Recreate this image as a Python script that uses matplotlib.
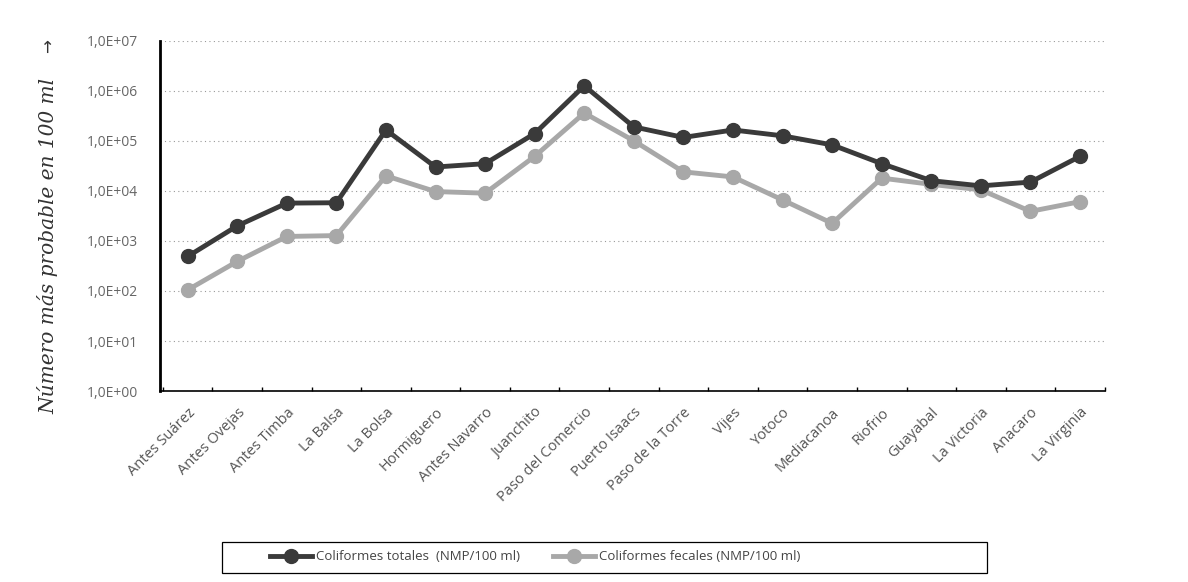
import numpy as np
import matplotlib
matplotlib.use("Agg")
import matplotlib.pyplot as plt
from matplotlib.ticker import FixedLocator, NullLocator
from matplotlib.patches import Rectangle

estaciones = ["Antes Suárez", "Antes Ovejas", "Antes Timba", "La Balsa", "La Bolsa",
              "Hormiguero", "Antes Navarro", "Juanchito", "Paso del Comercio",
              "Puerto Isaacs", "Paso de la Torre", "Vijes", "Yotoco", "Mediacanoa",
              "Riofrio", "Guayabal", "La Victoria", "Anacaro", "La Virginia"]
totales = [490, 2000, 5700, 5800, 1.65e5, 3.0e4, 3.5e4, 1.4e5, 1.26e6,
           1.9e5, 1.17e5, 1.65e5, 1.26e5, 8.3e4, 3.5e4, 1.6e4, 1.26e4, 1.5e4, 4.9e4]
fecales = [105, 390, 1230, 1280, 2.0e4, 9700, 9000, 4.9e4, 3.6e5,
           1.0e5, 2.4e4, 1.9e4, 6600, 2250, 1.8e4, 1.35e4, 1.05e4, 3900, 6100]
ytick_vals = [1e0, 1e1, 1e2, 1e3, 1e4, 1e5, 1e6, 1e7]
ytick_labels = ["1,0E+00", "1,0E+01", "1,0E+02", "1,0E+03",
                "1,0E+04", "1,0E+05", "1,0E+06", "1,0E+07"]

fig = plt.figure(figsize=(11.88, 5.82), dpi=100)
ax = fig.add_axes([0.135, 0.328, 0.795, 0.602])

x = np.arange(len(estaciones))
ax.plot(x, totales, color="#3a3a3a", lw=3.5, marker="o", ms=10,
        label="Coliformes totales  (NMP/100 ml)", zorder=3)
ax.plot(x, fecales, color="#a8a8a8", lw=3.5, marker="o", ms=10,
        label="Coliformes fecales (NMP/100 ml)", zorder=2)

ax.set_yscale("log")
ax.set_ylim(1, 1e7)
ax.set_xlim(-0.55, len(estaciones) - 0.5)
ax.yaxis.set_major_locator(FixedLocator(ytick_vals))
ax.yaxis.set_minor_locator(NullLocator())
ax.set_yticklabels(ytick_labels, fontsize=10, color="#666666", family="Open Sans")
ax.set_xticks(x)
ax.set_xticks(np.arange(len(estaciones) + 1) - 0.5, minor=True)
ax.set_xticklabels(estaciones, rotation=45, ha="right", rotation_mode="anchor",
                   fontsize=10.5, color="#555555", family="Open Sans")
ax.tick_params(axis="y", length=0, pad=16)
ax.tick_params(axis="x", which="major", length=0, pad=10)
ax.tick_params(axis="x", which="minor", length=3, direction="in", width=1)
ax.grid(axis="y", ls=(0, (1, 3)), color="#999999", lw=0.8)
for s in ["top", "right"]:
    ax.spines[s].set_visible(False)
ax.spines["left"].set_linewidth(2)
ax.spines["bottom"].set_linewidth(1.2)

fig.text(0.04, 0.577, "Número más probable en 100 ml", rotation=90, ha="center",
         va="center", fontsize=14.5, style="italic", family="DejaVu Serif", color="#333333")
fig.text(0.041, 0.92, "→", rotation=90, ha="center", va="center", fontsize=12,
         color="#333333")

# legend box drawn separately: the reference frame is wider than its content
fig.patches.append(Rectangle((222 / 1188, 1 - 573 / 582), 765 / 1188, 31 / 582,
                             transform=fig.transFigure, fill=False, ec="black", lw=0.9))
leg = fig.legend(loc="center left", bbox_to_anchor=(258 / 1188, 1 - 557 / 582), ncol=2,
                 frameon=False, columnspacing=2.5, handlelength=3.2, handletextpad=0.3,
                 prop={"family": "Open Sans", "size": 9.5})
for t in leg.get_texts():
    t.set_color("#444444")

fig.savefig("out.png", dpi=100)
